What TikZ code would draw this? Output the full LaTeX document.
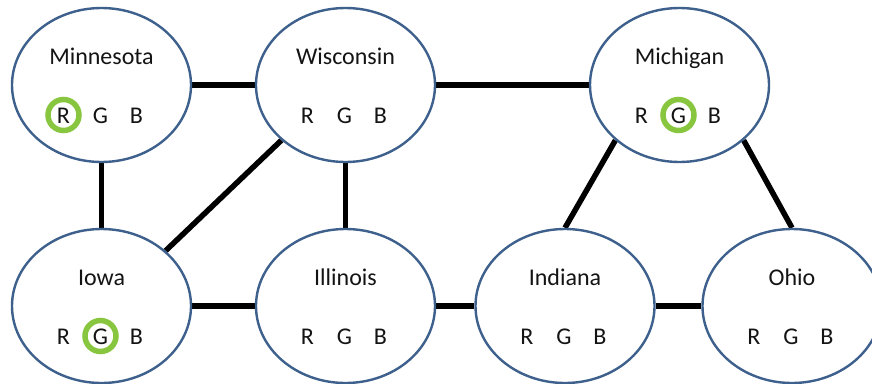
\documentclass[tikz,border=0pt]{standalone}
\usepackage{fontspec}
\setmainfont{Carlito}
\usetikzlibrary{backgrounds,shapes.geometric}
\definecolor{edgeblue}{RGB}{62,96,140}
\definecolor{pickgreen}{RGB}{137,198,63}
\definecolor{txt}{RGB}{20,20,20}
\tikzset{
  state/.style={ellipse,draw=edgeblue,line width=2.4pt,fill=white,minimum width=179pt,minimum height=154pt,inner sep=0pt},
  link/.style={line width=5.5pt,black},
  lbl/.style={anchor=base,inner sep=0pt,text=txt,font=\fontsize{24}{28}\selectfont},
  pick/.style={circle,draw=pickgreen,line width=5.5pt,minimum size=31pt,inner sep=0pt}
}
\begin{document}
\begin{tikzpicture}[x=1pt,y=-1pt]
\useasboundingbox (0,0) rectangle (872,383);
% states
\node[state] (min) at (101.5,85) {};
\node[state] (wis) at (345.5,85) {};
\node[state] (mich) at (679.5,85) {};
\node[state] (iowa) at (101.5,306) {};
\node[state] (ill) at (345.5,306) {};
\node[state] (ind) at (565,306) {};
\node[state] (ohio) at (792,306) {};
% highlight rings
\node[pick] (minPick) at ([shift={(-38,30)}]min.center) {};
\node[pick] (michPick) at ([shift={(-1,30)}]mich.center) {};
\node[pick] (iowaPick) at ([shift={(-1,30)}]iowa.center) {};
% labels
\foreach \s/\t in {min/Minnesota,wis/Wisconsin,mich/Michigan,iowa/Iowa,ill/Illinois,ind/Indiana,ohio/Ohio}{
  \node[lbl] (\s Name) at ([shift={(0,-21)}]\s.center) {\t};
  \node[lbl] (\s R) at ([shift={(-38,38)}]\s.center) {R};
  \node[lbl] (\s G) at ([shift={(-1,38)}]\s.center) {G};
  \node[lbl] (\s B) at ([shift={(35,38)}]\s.center) {B};
}
% connectors
\begin{scope}[on background layer]
\draw[link] (min) -- (wis);
\draw[link] (wis) -- (mich);
\draw[link] (min) -- (iowa);
\draw[link] (wis) -- (ill);
\draw[link] (wis.south west) -- (iowa.north east);
\draw[link] (iowa) -- (ill);
\draw[link] (ill) -- (ind);
\draw[link] (ind) -- (ohio);
\draw[link] (mich.south west) -- (ind.north);
\draw[link] (mich.south east) -- (ohio.north);
\end{scope}
\end{tikzpicture}
\end{document}
